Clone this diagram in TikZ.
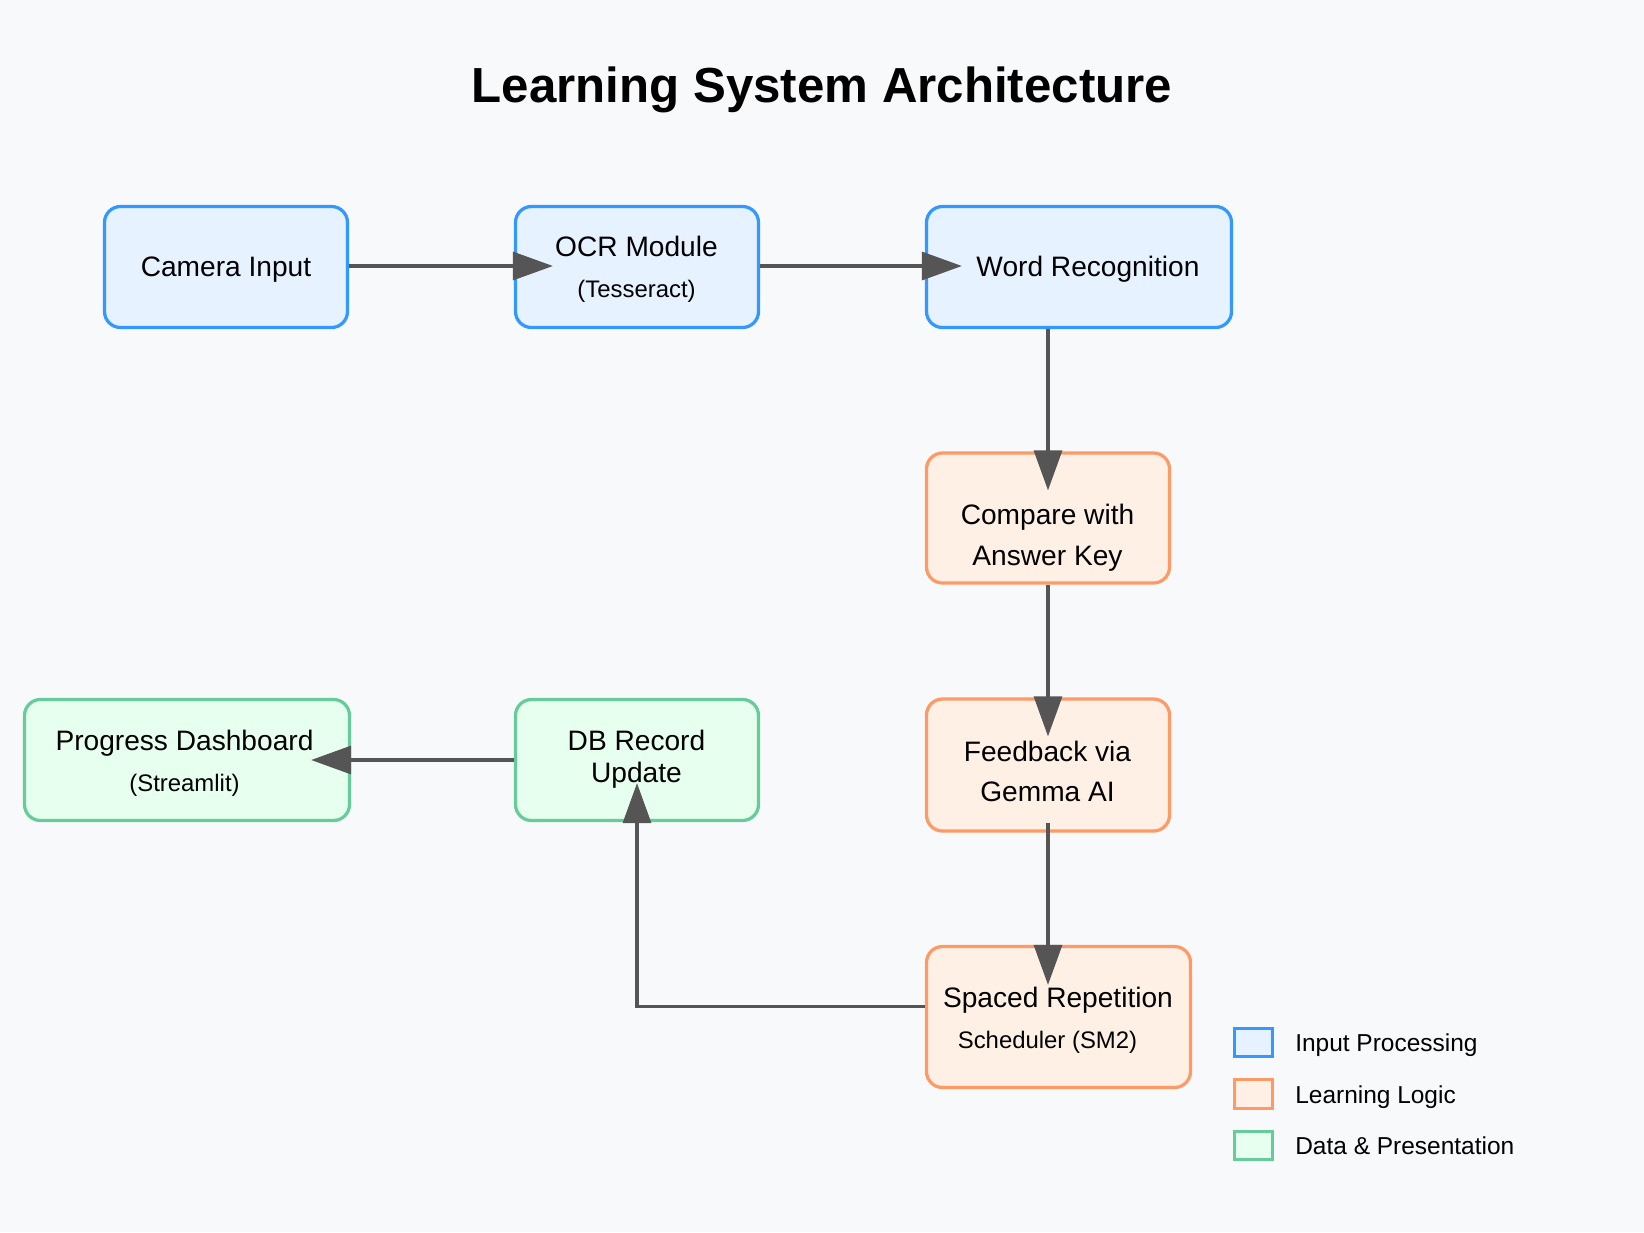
\documentclass[tikz,border=0pt]{standalone}
\usepackage{fontspec}
\setmainfont{Liberation Sans}
\usetikzlibrary{arrows.meta,calc}
\definecolor{inpline}{HTML}{3399FF}
\definecolor{inpfill}{HTML}{E6F2FF}
\definecolor{lrnline}{HTML}{FF9966}
\definecolor{lrnfill}{HTML}{FFF0E6}
\definecolor{datline}{HTML}{66CC99}
\definecolor{datfill}{HTML}{E6FFEE}
\definecolor{conline}{HTML}{555555}
\definecolor{bgpage}{HTML}{F8F9FA}

\begin{document}
\begin{tikzpicture}[x=0.025cm, y=-0.025cm,
            box/.style={draw, line width=2.3pt, rounded corners=0.4cm, inner sep=0pt},
            inpbox/.style={box, draw=inpline, fill=inpfill},
            lrnbox/.style={box, draw=lrnline, fill=lrnfill},
            datbox/.style={box, draw=datline, fill=datfill},
            keybox/.style={draw, line width=2.2pt, inner sep=0pt, minimum width=0.95cm, minimum height=0.72cm},
            maintxt/.style={inner sep=0pt, font=\fontsize{20}{24}\selectfont, text height=14.4pt, text depth=0pt},
            subtxt/.style={inner sep=0pt, font=\fontsize{17}{20}\selectfont, text height=12.2pt, text depth=0pt},
            keytxt/.style={inner sep=0pt, anchor=west, font=\fontsize{17.4}{20}\selectfont, text height=12.5pt, text depth=0pt},
            conn/.style={draw=conline, line width=2.3pt, -{Triangle[length=1.0cm, width=0.7cm]}},
        ]
            \fill[bgpage] (0,0) rectangle (1644,1232);
            \useasboundingbox (0,0) rectangle (1644,1232);

            \node[font=\fontsize{35}{42}\selectfont\bfseries] (title) at (822,90) {Learning System Architecture};

            \node[inpbox, minimum width=243*0.025cm, minimum height=121*0.025cm] (cam) at (226,267) {};
            \node[inpbox, minimum width=243*0.025cm, minimum height=121*0.025cm] (ocr) at (637,267) {};
            \node[inpbox, minimum width=305*0.025cm, minimum height=121*0.025cm] (word) at (1079,267) {};
            \node[lrnbox, minimum width=243*0.025cm, minimum height=130*0.025cm] (cmp) at (1048,518) {};
            \node[lrnbox, minimum width=243*0.025cm, minimum height=132*0.025cm] (fb) at (1048,765) {};
            \node[lrnbox, minimum width=264*0.025cm, minimum height=141*0.025cm] (sr) at (1058.5,1017) {};
            \node[datbox, minimum width=243*0.025cm, minimum height=121*0.025cm] (db) at (637,760) {};
            \node[datbox, minimum width=325*0.025cm, minimum height=121*0.025cm] (pd) at (187,760) {};

            \node[maintxt] (cam-a) at (226,266) {Camera Input};
            \node[maintxt] (ocr-a) at (636.5,246) {OCR Module};
            \node[subtxt] (ocr-b) at (636.5,289) {(Tesseract)};
            \node[maintxt] (word-a) at (1088,266) {Word Recognition};
            \node[maintxt] (cmp-a) at (1047.5,514) {Compare with};
            \node[maintxt] (cmp-b) at (1047.5,555) {Answer Key};
            \node[maintxt] (fb-a) at (1047.5,751) {Feedback via};
            \node[maintxt] (fb-b) at (1047.5,791) {Gemma AI};
            \node[maintxt] (sr-a) at (1058,997) {Spaced Repetition};
            \node[subtxt] (sr-b) at (1047.5,1040) {Scheduler (SM2)};
            \node[maintxt] (db-a) at (636.5,740) {DB Record};
            \node[maintxt] (db-b) at (636.5,772) {Update};
            \node[maintxt] (pd-a) at (184.5,740) {Progress Dashboard};
            \node[subtxt] (pd-b) at (184.5,783) {(Streamlit)};

            \draw[conn] (cam.east |- 0,266) -- ($(ocr.west |- 0,266)+(39,0)$);
            \draw[conn] (ocr.east |- 0,266) -- ($(word.west |- 0,266)+(37,0)$);
            \draw[conn] (cmp.north |- word.south) -- ($(cmp.north)+(0,39)$);
            \draw[conn] (cmp.south) -- ($(fb.north)+(0,39)$);
            \draw[conn] ($(fb.south)+(0,-10)$) -- ($(fb.south |- sr.north)+(0,40)$);
            \draw[conn] ($(sr.west)+(0,-10.5)$) -| ($(db.south)+(0,-39)$);
            \draw[conn] (db.west) -- ($(pd.east)+(-40,0)$);

            \node[keybox, draw=inpline, fill=inpfill] (key-inp) at (1253.5,1042.5) {};
            \node[keybox, draw=lrnline, fill=lrnfill] (key-lrn) at (1253.5,1094) {};
            \node[keybox, draw=datline, fill=datfill] (key-dat) at (1253.5,1145.5) {};
            \node[keytxt] (key-inp-t) at (1295,1043) {Input Processing};
            \node[keytxt] (key-lrn-t) at (1295,1094.5) {Learning Logic};
            \node[keytxt] (key-dat-t) at (1295,1146) {Data \& Presentation};
        \end{tikzpicture}
\end{document}
